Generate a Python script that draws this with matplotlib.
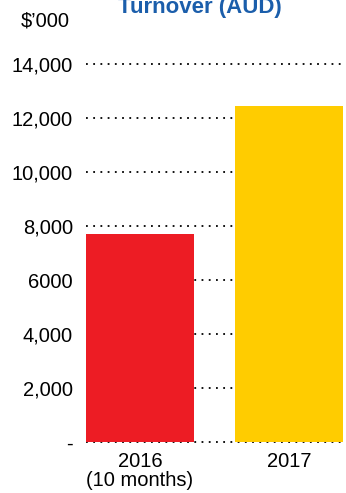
import matplotlib.pyplot as plt
import numpy as np

plt.rcParams['font.family'] = ['Liberation Sans', 'DejaVu Sans']

# turnover in $'000
years = ['2016\n(10 months)', '2017']
turnover = [7700, 12450]
colors = ['#ED1C24', '#FFCC00']
yticks = [0, 2000, 4000, 6000, 8000, 10000, 12000, 14000]
ylabels = ['-', '2,000', '4,000', '6000', '8,000', '10,000', '12,000', '14,000']

fig = plt.figure(figsize=(3.46, 4.93), dpi=100)
ax = fig.add_axes([86/346, 1-442/493, 257/346, 378/493])

x = np.arange(len(years))
w = 0.725
# dotted gridlines behind the bars
for t in yticks:
    ax.plot([-w/2, 1 + w/2], [t, t], color='black', lw=1.3,
            linestyle=(0, (1, 3)), zorder=1, clip_on=False)
ax.bar(x, turnover, width=w, color=colors, zorder=2)

ax.set_xlim(-w/2, 1 + w/2)
ax.set_ylim(0, 14000)
ax.set_yticks(yticks)
ax.set_yticklabels(ylabels, fontsize=14.5)
ax.set_xticks(x)
ax.set_xticklabels(years, fontsize=14.5, linespacing=1.05)
ax.tick_params(length=0, pad=9.5)
ax.tick_params(axis='x', pad=7)
for s in ax.spines.values():
    s.set_visible(False)

fig.text(45/346, 1-21/493, "$\u2019000", fontsize=14.5, ha='center', va='center')
fig.text(200/346, 1-13/493, 'Turnover (AUD)', fontsize=16, fontweight='bold',
         color='#1B5EAB', ha='center', va='baseline')

fig.savefig('out.png', dpi=100)
